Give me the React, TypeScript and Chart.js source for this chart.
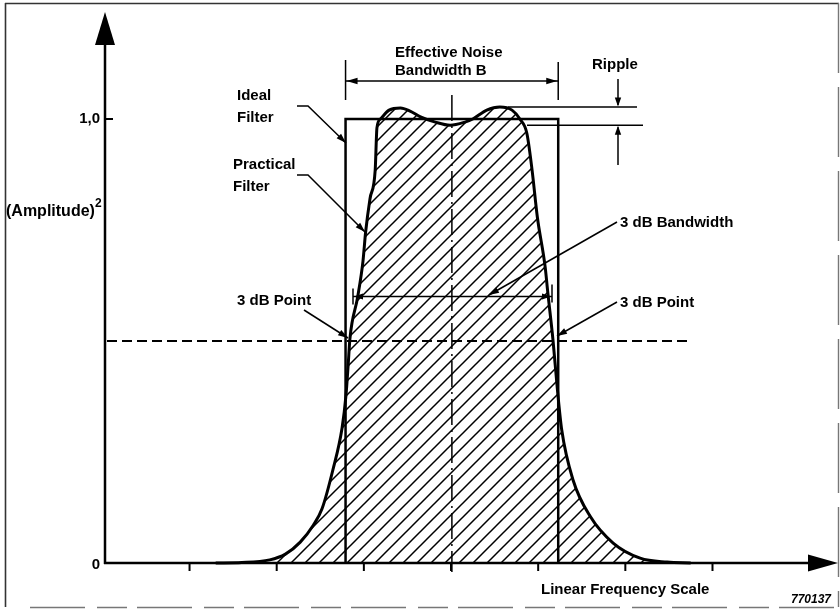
import React, { useEffect, useRef } from "react";
import { Chart, registerables } from "chart.js";

Chart.register(...registerables);

// Practical filter response, (amplitude)^2 versus linear frequency (tick units)
const practicalFreq = [
  1.3, 1.6, 1.92, 2.1, 2.27, 2.42, 2.52, 2.645, 2.75, 2.795,
  2.82, 2.84, 2.93, 2.99, 3.02, 3.07, 3.13, 3.15, 3.19, 3.29,
  3.42, 3.53, 3.65, 3.82, 3.99, 4.16, 4.25, 4.41, 4.56, 4.7,
  4.79, 4.87, 4.93, 4.99, 5.08, 5.11, 5.17, 5.22, 5.27, 5.4,
  5.6, 5.86, 6.17, 6.48, 6.75,
];
const practicalPower = [
  0, 0.001, 0.007, 0.02, 0.047, 0.085, 0.122, 0.21, 0.304, 0.378,
  0.446, 0.505, 0.6, 0.68, 0.745, 0.82, 0.885, 0.98, 1.0, 1.02,
  1.025, 1.018, 1.005, 0.993, 0.986, 0.993, 1.0, 1.02, 1.027, 1.02,
  1.0, 0.968, 0.885, 0.78, 0.667, 0.61, 0.502, 0.392, 0.3, 0.187,
  0.104, 0.045, 0.011, 0.002, 0,
];

// Ideal (rectangular) filter
const idealFreq = [2.79, 2.79, 5.23, 5.23];
const idealPower = [0, 1, 1, 0];

// Axis ticks
const xTicks = [1, 2, 3, 4, 5, 6, 7];
const yTicks = [0, 1];
const yTickLabels = ["0", "1,0"];

// Reference levels
const centerFreq = 4.01;
const threeDbLevel = 0.5;
const threeDbBandwidthLevel = 0.6;
const rippleMax = 1.027;
const rippleMin = 0.986;

const FONT = '"Liberation Sans", Arial, Helvetica, sans-serif';
const HATCH = 14;

function seg(ctx: CanvasRenderingContext2D, pts: number[][], w = 1.5, dash: number[] = []) {
  ctx.save();
  ctx.lineWidth = w;
  ctx.setLineDash(dash);
  ctx.beginPath();
  ctx.moveTo(pts[0][0], pts[0][1]);
  for (let i = 1; i < pts.length; i++) ctx.lineTo(pts[i][0], pts[i][1]);
  ctx.stroke();
  ctx.restore();
}

function head(ctx: CanvasRenderingContext2D, fx: number, fy: number, tx: number, ty: number, len = 9, half = 3.2) {
  const a = Math.atan2(ty - fy, tx - fx);
  const c = Math.cos(a), s = Math.sin(a);
  ctx.beginPath();
  ctx.moveTo(tx, ty);
  ctx.lineTo(tx - len * c + half * s, ty - len * s - half * c);
  ctx.lineTo(tx - len * c - half * s, ty - len * s + half * c);
  ctx.closePath();
  ctx.fill();
}

function leader(ctx: CanvasRenderingContext2D, pts: number[][]) {
  seg(ctx, pts, 1.5);
  const n = pts.length;
  head(ctx, pts[n - 2][0], pts[n - 2][1], pts[n - 1][0], pts[n - 1][1], 10, 3.2);
}

function text(ctx: CanvasRenderingContext2D, s: string, x: number, y: number, align: CanvasTextAlign = "left", font = `bold 15px ${FONT}`) {
  ctx.font = font;
  ctx.textAlign = align;
  ctx.textBaseline = "middle";
  ctx.fillText(s, x, y);
}

const diagramPlugin = {
  id: "diagram",
  beforeDraw(chart: any) {
    const ctx: CanvasRenderingContext2D = chart.ctx;
    ctx.save();
    ctx.fillStyle = "#fff";
    ctx.fillRect(0, 0, chart.width, chart.height);
    ctx.strokeStyle = "#333";
    seg(ctx, [[5.5, 3], [5.5, 607]], 1.6);
    seg(ctx, [[5, 3.5], [839, 3.5]], 1.6);
    ctx.strokeStyle = "#777";
    seg(ctx, [[838.5, 3], [838.5, 607]], 1.4, [70, 14]);
    seg(ctx, [[30, 607.5], [838, 607.5]], 1.4, [55, 12, 30, 10]);
    ctx.restore();
  },
  afterDatasetsDraw(chart: any) {
    const ctx: CanvasRenderingContext2D = chart.ctx;
    const xs = chart.scales.x, ys = chart.scales.y;
    const X = (v: number) => xs.getPixelForValue(v);
    const Y = (v: number) => ys.getPixelForValue(v);
    const area = chart.chartArea;
    const left = area.left;
    const y0 = Y(0);
    ctx.save();
    ctx.strokeStyle = "#000";
    ctx.fillStyle = "#000";

    // axes with arrows
    seg(ctx, [[left, y0 + 1], [left, area.top + 30]], 2.5);
    head(ctx, left, area.top + 100, left, area.top, 33, 10);
    seg(ctx, [[left - 1, y0], [area.right - 25, y0]], 2.5);
    head(ctx, left, y0, area.right, y0, 30, 8.5);

    // ticks
    xTicks.forEach((t) => seg(ctx, [[X(t), y0], [X(t), y0 + 8]], 2));
    yTicks.forEach((t, i) => {
      if (t > 0) seg(ctx, [[left, Y(t)], [left + 8, Y(t)]], 2);
      text(ctx, yTickLabels[i], left - 5, Y(t) + (t === 0 ? 2 : 0), "right");
    });

    // 3 dB level dashed line
    seg(ctx, [[left + 2, Y(threeDbLevel)], [X(6.72), Y(threeDbLevel)]], 1.8, [10, 5]);

    // centre dash-dot line
    seg(ctx, [[X(centerFreq), Y(1.054)], [X(centerFreq), y0 + 9]], 1.5, [26, 5, 2, 5]);

    // effective noise bandwidth dimension
    const bl = X(idealFreq[0]), br = X(idealFreq[2]);
    seg(ctx, [[bl, 60], [bl, 100]], 1.5);
    seg(ctx, [[br, 62], [br, 100]], 1.5);
    seg(ctx, [[bl, 81], [br, 81]], 1.5);
    head(ctx, bl + 20, 81, bl + 1, 81, 11, 3.2);
    head(ctx, br - 20, 81, br - 1, 81, 11, 3.2);

    // ripple dimension
    const yMax = Y(rippleMax), yMin = Y(rippleMin);
    seg(ctx, [[508, yMax], [637, yMax]], 1.5);
    seg(ctx, [[527, yMin], [643, yMin]], 1.5);
    seg(ctx, [[618, 79], [618, yMax - 2]], 1.5);
    head(ctx, 618, 79, 618, yMax - 0.5, 9, 3.2);
    seg(ctx, [[618, 165], [618, yMin + 2]], 1.5);
    head(ctx, 618, 165, 618, yMin + 0.5, 9, 3.2);

    // 3 dB bandwidth dimension
    const yb = Y(threeDbBandwidthLevel);
    seg(ctx, [[353, yb], [552, yb]], 1.5);
    seg(ctx, [[353, yb - 8], [353, yb + 8]], 1.5);
    seg(ctx, [[552, yb - 12], [552, yb + 6]], 1.5);
    head(ctx, 370, yb, 354, yb, 9, 3);
    head(ctx, 535, yb, 551, yb, 9, 3);

    // leaders
    leader(ctx, [[297, 106], [308, 106], [346, 143]]);
    leader(ctx, [[297, 175], [308, 175], [365, 232]]);
    leader(ctx, [[304, 310], [348, 338]]);
    leader(ctx, [[617, 222], [489, 295]]);
    leader(ctx, [[617, 302], [557, 336]]);

    // labels
    text(ctx, "Effective Noise", 395, 53);
    text(ctx, "Bandwidth B", 395, 71);
    text(ctx, "Ripple", 592, 65);
    text(ctx, "Ideal", 237, 96);
    text(ctx, "Filter", 237, 118);
    text(ctx, "Practical", 233, 165);
    text(ctx, "Filter", 233, 187);
    text(ctx, "3 dB Point", 237, 301);
    text(ctx, "3 dB Bandwidth", 620, 223);
    text(ctx, "3 dB Point", 620, 303);
    text(ctx, "Linear Frequency Scale", 541, 590);
    text(ctx, "770137", 791, 600, "left", `italic bold 12px ${FONT}`);
    text(ctx, "(Amplitude)", 6, 212, "left", `bold 16px ${FONT}`);
    text(ctx, "2", 95, 204, "left", `bold 12px ${FONT}`);

    ctx.restore();
  },
};

export default function App() {
  const ref = useRef<HTMLCanvasElement>(null);
  useEffect(() => {
    const canvas = ref.current;
    if (!canvas) return;
    const pc = document.createElement("canvas");
    pc.width = HATCH;
    pc.height = HATCH;
    const g = pc.getContext("2d")!;
    g.strokeStyle = "#000";
    g.lineWidth = 1.5;
    g.beginPath();
    g.moveTo(-2, HATCH + 2);
    g.lineTo(HATCH + 2, -2);
    g.moveTo(-2, 2);
    g.lineTo(2, -2);
    g.moveTo(HATCH - 2, HATCH + 2);
    g.lineTo(HATCH + 2, HATCH - 2);
    g.stroke();
    const pattern = canvas.getContext("2d")!.createPattern(pc, "repeat");

    const chart = new Chart(canvas, {
      type: "line",
      data: {
        datasets: [
          {
            label: "Practical Filter",
            data: practicalFreq.map((x, i) => ({ x, y: practicalPower[i] })),
            borderColor: "#000",
            borderWidth: 3,
            backgroundColor: pattern as any,
            fill: "origin",
            cubicInterpolationMode: "monotone",
            pointRadius: 0,
            clip: false as any,
          },
          {
            label: "Ideal Filter",
            data: idealFreq.map((x, i) => ({ x, y: idealPower[i] })),
            borderColor: "#000",
            borderWidth: 2.5,
            fill: false,
            tension: 0,
            pointRadius: 0,
            clip: false as any,
          },
        ],
      },
      options: {
        animation: false,
        responsive: false,
        devicePixelRatio: 1,
        events: [],
        layout: { padding: { left: 105, right: 2, top: 12, bottom: 47 } },
        scales: {
          x: { type: "linear", min: 0.03, max: 8.44, display: false },
          y: { type: "linear", min: 0, max: 1.241, display: false },
        },
        plugins: {
          legend: { display: false },
          tooltip: { enabled: false },
          filler: { drawTime: "beforeDatasetsDraw" } as any,
        },
      } as any,
      plugins: [diagramPlugin as any],
    });
    return () => chart.destroy();
  }, []);

  return (
    <div style={{ position: "absolute", left: 0, top: 0, width: 840, height: 610 }}>
      <canvas ref={ref} width={840} height={610} style={{ display: "block" }} />
    </div>
  );
}
